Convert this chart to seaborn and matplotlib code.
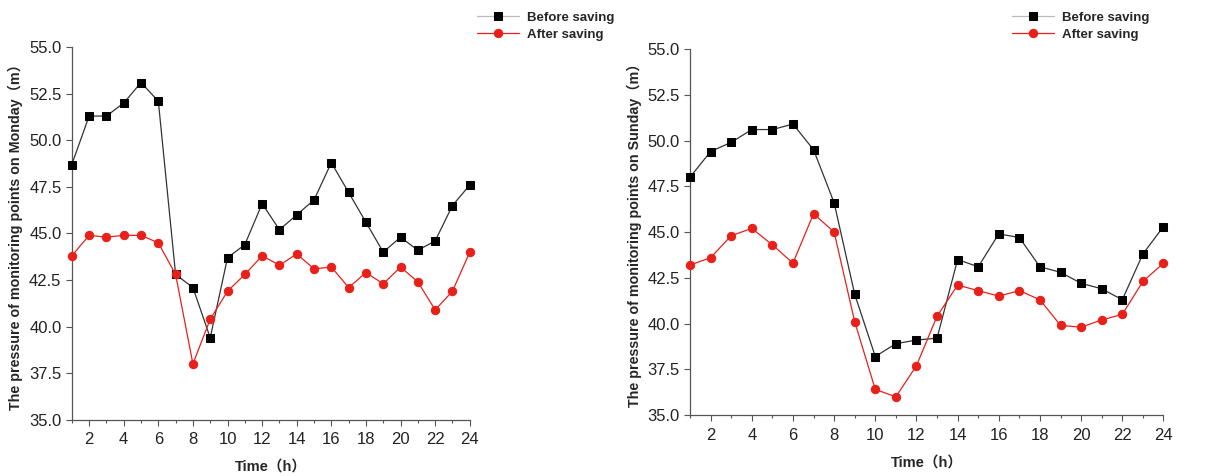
import numpy as np
import pandas as pd
import seaborn as sns
import matplotlib.pyplot as plt
from matplotlib.ticker import MultipleLocator, FormatStrFormatter, NullLocator

# Hours of the day
hours = list(range(1, 25))

# Monday pressure (m)
monday_before = [48.7, 51.3, 51.3, 52.0, 53.1, 52.1, 42.8, 42.1, 39.4, 43.7, 44.4, 46.6,
                 45.2, 46.0, 46.8, 48.8, 47.2, 45.6, 44.0, 44.8, 44.1, 44.6, 46.5, 47.6]
monday_after = [43.8, 44.9, 44.8, 44.9, 44.9, 44.5, 42.8, 38.0, 40.4, 41.9, 42.8, 43.8,
                43.3, 43.9, 43.1, 43.2, 42.1, 42.9, 42.3, 43.2, 42.4, 40.9, 41.9, 44.0]

# Sunday pressure (m)
sunday_before = [48.0, 49.4, 49.9, 50.6, 50.6, 50.9, 49.5, 46.6, 41.6, 38.2, 38.9, 39.1,
                 39.2, 43.5, 43.1, 44.9, 44.7, 43.1, 42.8, 42.2, 41.9, 41.3, 43.8, 45.3]
sunday_after = [43.2, 43.6, 44.8, 45.2, 44.3, 43.3, 46.0, 45.0, 40.1, 36.4, 36.0, 37.7,
                40.4, 42.1, 41.8, 41.5, 41.8, 41.3, 39.9, 39.8, 40.2, 40.5, 42.3, 43.3]

sns.set_style("ticks")
plt.rcParams['font.family'] = ['Liberation Sans Narrow', 'Liberation Sans', 'Noto Sans CJK SC', 'DejaVu Sans']

fig = plt.figure(figsize=(12.17, 4.76), dpi=100)
ax1 = fig.add_axes([0.059, 0.118, 0.327, 0.783])
ax2 = fig.add_axes([0.567, 0.128, 0.389, 0.769])


def draw(ax, before, after, ylabel, leg_anchor):
    df = pd.DataFrame({'hour': hours, 'Before saving': before, 'After saving': after})
    sns.lineplot(data=df, x='hour', y='Before saving', ax=ax, color='#333333', lw=0.9,
                 marker='s', markersize=5.5, markerfacecolor='black', markeredgecolor='black',
                 label='Before saving', clip_on=False, zorder=3)
    sns.lineplot(data=df, x='hour', y='After saving', ax=ax, color='#e8201a', lw=0.9,
                 marker='o', markersize=6, markerfacecolor='#e8201a', markeredgecolor='#e8201a',
                 label='After saving', clip_on=False, zorder=3)
    ax.set_xlim(1, 24)
    ax.set_ylim(35, 55)
    ax.xaxis.set_major_locator(MultipleLocator(2))
    ax.xaxis.set_minor_locator(MultipleLocator(1))
    ax.yaxis.set_major_locator(MultipleLocator(2.5))
    ax.yaxis.set_minor_locator(NullLocator())
    ax.yaxis.set_major_formatter(FormatStrFormatter('%.1f'))
    ax.tick_params(axis='both', which='major', labelsize=12, length=4, width=0.8,
                   color='#555555', labelcolor='#222222')
    ax.tick_params(axis='x', which='major', pad=5)
    ax.tick_params(axis='both', which='minor', length=2.5, width=0.8, color='#555555')
    for s in ['top', 'right']:
        ax.spines[s].set_visible(False)
    for s in ['left', 'bottom']:
        ax.spines[s].set_color('#555555')
        ax.spines[s].set_linewidth(0.9)
    ax.set_xlabel('Time（h）', fontsize=10.5, fontweight='bold', labelpad=9,
                  family=['Liberation Sans', 'Noto Sans CJK SC'])
    ax.set_ylabel(ylabel, fontsize=10.3, fontweight='bold',
                  family=['Liberation Sans', 'Noto Sans CJK SC'])
    ax.legend(loc='upper left', bbox_to_anchor=leg_anchor, bbox_transform=fig.transFigure,
              frameon=False, prop={'weight': 'bold', 'size': 9.5, 'family': 'Liberation Sans'},
              handlelength=3.2, handletextpad=0.6, labelspacing=0.35)
    leg = ax.get_legend()
    leg.get_lines()[0].set_color('#bbbbbb')
    leg.get_lines()[0].set_markerfacecolor('black')
    leg.get_lines()[0].set_markeredgecolor('black')


draw(ax1, monday_before, monday_after, 'The pressure of monitoring points on Monday（m）', (0.382, 1.0))
draw(ax2, sunday_before, sunday_after, 'The pressure of monitoring points on Sunday（m）', (0.822, 1.0))

fig.savefig('out.png', dpi=100)
